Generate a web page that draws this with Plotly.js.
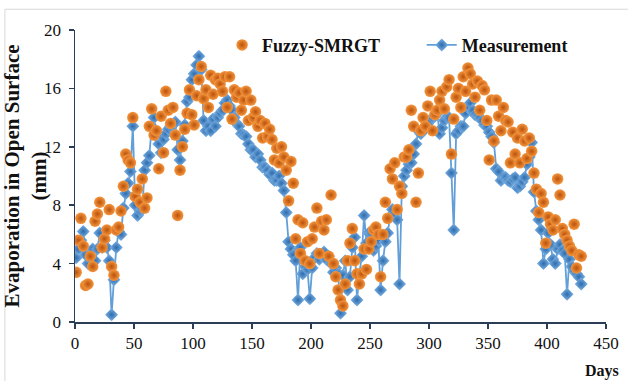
<!DOCTYPE html>
<html>
<head>
<meta charset="utf-8">
<script src="https://cdn.plot.ly/plotly-3.0.1.min.js"></script>
<style>
  html, body { margin: 0; padding: 0; background: #ffffff; }
  #chart { width: 628px; height: 381px; }
</style>
</head>
<body>
<div id="chart"></div>
<script>
// Day numbers: one reading every second day, starting on day 1
const dayStart = 1;
const dayStep = 2;

// Measured evaporation (mm), days 1, 3, 5, ... 429
const measurement = [
  4.4, 5.0, 5.6, 6.2, 4.6, 4.0, 4.3, 5.0, 4.2, 5.0,
  6.1, 5.1, 5.6, 5.1, 4.2, 0.5, 2.9, 5.1, 6.2, 6.0,
  7.8, 8.8, 9.5, 10.3, 13.4, 8.0, 7.3, 7.6, 7.7, 10.4,
  10.9, 11.4, 13.4, 14.0, 12.7, 12.2, 11.6, 12.5, 12.9, 13.2,
  13.4, 13.5, 13.7, 11.8, 11.1, 12.4, 13.5, 15.1, 15.4, 16.6,
  17.0, 17.6, 18.2, 17.3, 13.8, 13.1, 13.4, 13.1, 13.9, 13.4,
  14.0, 14.3, 14.5, 15.0, 15.2, 14.8, 14.5, 14.0, 13.6, 13.4,
  12.9, 12.8, 12.7, 12.2, 11.8, 11.8, 11.3, 11.5, 11.1, 10.6,
  10.6, 10.4, 10.1, 10.2, 9.7, 9.7, 10.0, 9.5, 9.0, 7.5,
  5.5, 5.0, 4.6, 4.2, 1.5, 5.1, 3.3, 3.8, 3.6, 1.6,
  3.7, 4.4, 4.7, 4.3, 4.5, 4.8, 4.3, 4.5, 4.0, 3.4,
  3.7, 3.3, 0.6, 3.2, 4.2, 2.2, 3.1, 5.1, 5.8, 1.5,
  3.3, 4.5, 7.3, 5.4, 6.1, 6.1, 4.9, 5.2, 5.6, 2.2,
  4.2, 5.5, 6.1, 7.2, 7.7, 7.4, 7.0, 2.6, 9.3, 10.0,
  10.4, 10.8, 10.9, 11.5, 12.2, 13.1, 12.9, 13.1, 13.4, 13.6,
  13.8, 14.0, 14.1, 14.3, 12.9, 13.3, 13.8, 14.0, 14.0, 10.2,
  6.3, 12.9, 13.1, 13.4, 13.4, 14.3, 14.7, 15.0, 14.5, 14.2,
  14.1, 14.0, 13.8, 13.5, 13.4, 13.0, 12.7, 12.3, 10.5, 10.3,
  9.7, 9.9, 9.9, 9.7, 9.6, 9.8, 9.9, 9.2, 9.3, 9.6,
  9.9, 10.8, 11.3, 12.3, 8.9, 7.6, 7.0, 6.3, 4.0, 5.0,
  6.1, 5.3, 4.3, 4.0, 5.0, 5.3, 4.9, 4.7, 1.9, 4.3,
  3.8, 3.5, 3.3, 3.1, 2.6
];

// Fuzzy-SMRGT estimates (mm), same days
const fuzzySMRGT = [
  3.4, 5.6, 7.1, 5.2, 2.5, 2.6, 4.5, 3.8, 6.9, 7.4,
  8.2, 5.1, 5.7, 6.3, 7.7, 3.8, 3.2, 6.3, 6.5, 7.6,
  9.3, 11.5, 11.1, 10.9, 14.0, 8.6, 9.1, 8.2, 9.8, 7.8,
  8.5, 13.4, 14.6, 12.8, 13.1, 10.5, 14.1, 11.6, 15.8, 14.5,
  13.6, 14.7, 12.8, 7.3, 10.4, 12.0, 13.2, 14.3, 15.9, 14.2,
  13.5, 15.5, 16.6, 17.5, 15.3, 15.9, 14.7, 16.9, 15.6, 16.6,
  16.7, 16.3, 15.8, 16.8, 14.7, 16.8, 13.9, 15.9, 15.4, 15.7,
  14.5, 15.2, 15.8, 13.8, 15.2, 14.0, 14.4, 13.4, 13.8, 12.6,
  13.6, 12.7, 13.2, 12.5, 11.1, 11.9, 10.9, 12.0, 11.3, 10.4,
  8.3, 11.0, 9.5, 5.7, 7.0, 4.7, 6.8, 4.2, 5.5, 4.0,
  5.7, 6.5, 7.8, 4.7, 6.9, 6.3, 7.0, 4.5, 8.7, 4.0,
  3.1, 2.2, 1.5, 1.1, 2.6, 4.2, 5.4, 6.4, 4.2, 3.3,
  2.6, 3.3, 5.0, 3.6, 5.0, 5.5, 6.3, 6.5, 6.0, 3.1,
  6.0, 8.2, 7.1, 10.5, 9.8, 10.9, 7.7, 9.3, 8.8, 11.3,
  11.3, 11.8, 14.5, 13.4, 8.2, 10.2, 13.1, 14.0, 13.4, 14.8,
  15.8, 13.1, 14.2, 14.5, 15.2, 15.8, 14.6, 16.1, 16.6, 11.5,
  13.9, 15.4, 16.0, 14.7, 16.8, 15.8, 17.4, 17.0, 16.3, 15.4,
  16.5, 14.5, 16.2, 15.9, 13.8, 11.1, 15.2, 12.4, 15.2, 14.1,
  13.1, 14.7, 13.8, 13.7, 10.9, 13.0, 11.5, 12.6, 10.9, 13.2,
  12.4, 11.2, 12.6, 11.7, 10.2, 9.1, 7.5, 8.8, 8.2, 5.4,
  7.2, 6.7, 6.3, 7.0, 9.8, 8.7, 6.4, 6.0, 5.6, 5.2,
  4.9, 6.7, 3.7, 4.6, 4.5
];

const days = measurement.map((_, i) => dayStart + dayStep * i);

const xTicks = [0, 50, 100, 150, 200, 250, 300, 350, 400, 450];
const yTicks = [0, 4, 8, 12, 16, 20];

const serif = 'Liberation Serif, Times New Roman, serif';
const axisColor = '#2b3d57';

const traces = [
  {
    x: days,
    y: measurement,
    name: 'Measurement',
    type: 'scatter',
    mode: 'lines+markers',
    legend: 'legend2',
    line: { color: '#629fd8', width: 1.8 },
    marker: {
      symbol: 'diamond',
      size: 10,
      color: '#7db3e6',
      gradient: { type: 'radial', color: '#2e6cad' },
      line: { width: 0 }
    }
  },
  {
    x: days,
    y: fuzzySMRGT,
    name: 'Fuzzy-SMRGT',
    type: 'scatter',
    mode: 'markers',
    legend: 'legend',
    marker: {
      symbol: 'circle',
      size: 11.5,
      color: '#f5963e',
      gradient: { type: 'radial', color: '#bb520b' },
      line: { width: 0 }
    }
  }
];

const layout = {
  width: 628,
  height: 381,
  margin: { l: 75, r: 22, t: 30, b: 59 },
  paper_bgcolor: '#ffffff',
  plot_bgcolor: '#ffffff',
  font: { family: serif, color: '#111111', size: 17 },
  showlegend: true,
  legend: {
    x: 0.277, y: 0.948, xanchor: 'left', yanchor: 'middle',
    orientation: 'h',
    bgcolor: 'rgba(0,0,0,0)',
    font: { family: serif, size: 18, weight: 'bold', color: '#111111' }
  },
  legend2: {
    x: 0.653, y: 0.948, xanchor: 'left', yanchor: 'middle',
    orientation: 'h',
    bgcolor: 'rgba(0,0,0,0)',
    font: { family: serif, size: 18, weight: 'bold', color: '#111111' }
  },
  xaxis: {
    range: [0, 450],
    tickvals: xTicks,
    ticktext: xTicks.map(String),
    ticks: 'outside',
    ticklen: 5,
    tickwidth: 1.5,
    tickcolor: axisColor,
    showline: true,
    linecolor: axisColor,
    linewidth: 1.5,
    showgrid: false,
    zeroline: false,
    tickfont: { family: serif, size: 17, color: '#111111' }
  },
  yaxis: {
    range: [0, 20],
    tickvals: yTicks,
    ticktext: yTicks.map(String),
    ticks: 'outside',
    ticklen: 5,
    tickwidth: 1.5,
    tickcolor: axisColor,
    showline: true,
    linecolor: axisColor,
    linewidth: 1.5,
    showgrid: false,
    zeroline: false,
    ticklabelstandoff: 4,
    tickfont: { family: serif, size: 17, color: '#111111' },
    title: {
      text: 'Evaporation in Open Surface<br>(mm)',
      font: { family: serif, size: 21, weight: 'bold', color: '#111111' },
      standoff: 3
    }
  },
  annotations: [
    {
      text: 'Days',
      xref: 'paper', yref: 'paper',
      x: 0.9925, y: -0.168,
      xanchor: 'center', yanchor: 'middle',
      showarrow: false,
      font: { family: serif, size: 16, weight: 'bold', color: '#111111' }
    }
  ],
  shapes: [
    { type: 'line', xref: 'paper', yref: 'paper', x0: -0.132, x1: -0.132, y0: -0.25, y1: 1.071,
      line: { color: '#d9d9d9', width: 1 } },
    { type: 'line', xref: 'paper', yref: 'paper', x0: -0.132, x1: 1.1, y0: 1.071, y1: 1.071,
      line: { color: '#d9d9d9', width: 1 } }
  ]
};

Plotly.newPlot('chart', traces, layout, { displayModeBar: false, staticPlot: true });
</script>
</body>
</html>
